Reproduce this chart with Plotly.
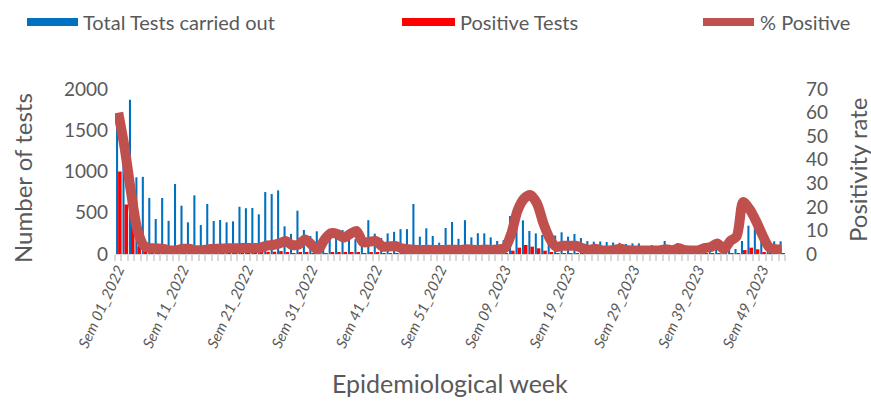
import plotly.graph_objects as go

# ---------------------------------------------------------------
# Weekly surveillance data, Sem 01_2022 .. Sem 52_2023
# ---------------------------------------------------------------
weeks = [f"Sem {w:02d}_{y}" for y in (2022, 2023) for w in range(1, 53)]

total_tests = [
    1650, 1300, 1870, 930, 935, 680, 424, 679, 402, 848,
    586, 384, 711, 351, 606, 400, 412, 384, 396, 572,
    555, 557, 481, 751, 727, 771, 335, 244, 525, 291,
    218, 275, 200, 180, 250, 291, 200, 180, 200, 410,
    246, 195, 250, 269, 301, 301, 606, 210, 311, 218,
    137, 315, 388, 184, 410, 202, 252, 250, 202, 158,
    168, 460, 420, 408, 279, 250, 230, 230, 224, 263,
    210, 242, 194, 156, 150, 152, 145, 139, 135, 121,
    129, 129, 97, 109, 97, 158, 97, 133, 100, 90,
    85, 80, 90, 85, 80, 70, 60, 158, 343, 311,
    170, 160, 154, 154,
]

positive_tests = [
    1000, 600, 480, 95, 33, 17, 10, 15, 6, 14,
    13, 8, 11, 6, 12, 9, 9, 9, 10, 14,
    14, 14, 13, 26, 28, 35, 18, 9, 21, 18,
    9, 5, 12, 16, 21, 20, 17, 18, 10, 21,
    14, 6, 8, 9, 7, 6, 11, 4, 6, 4,
    3, 6, 7, 3, 8, 4, 5, 5, 4, 3,
    4, 40, 77, 109, 89, 69, 40, 15, 7, 9,
    7, 8, 5, 3, 3, 2, 2, 3, 3, 2,
    2, 2, 1, 2, 1, 3, 2, 3, 2, 1,
    1, 2, 3, 4, 2, 4, 5, 48, 77, 57,
    14, 5, 3, 3,
]

pct_positive = [
    60, 45, 26, 10, 3.5, 2.5, 2.4, 2.2, 1.5, 1.6,
    2.2, 2.2, 1.6, 1.6, 2.0, 2.2, 2.3, 2.4, 2.4, 2.5,
    2.5, 2.5, 2.6, 3.5, 3.8, 4.5, 5.5, 3.8, 4.0, 6.2,
    4.0, 1.8, 6.0, 8.8, 8.5, 7.0, 8.5, 9.8, 5.0, 5.2,
    5.5, 3.2, 3.2, 3.4, 2.4, 2.0, 1.8, 1.7, 1.8, 1.7,
    1.7, 1.8, 1.8, 1.7, 2.0, 1.8, 1.7, 1.9, 1.7, 2.0,
    2.5, 8.5, 18.5, 23.5, 25, 21.5, 13, 6.5, 3.0, 3.5,
    3.5, 3.5, 2.5, 1.8, 2.2, 1.6, 1.5, 1.8, 2.2, 1.6,
    1.5, 1.5, 1.5, 1.5, 1.5, 2.0, 1.6, 2.4, 1.6, 1.5,
    1.5, 2.5, 3.0, 4.5, 2.0, 5.5, 7.5, 22, 19, 14,
    8, 3, 2, 2,
]

tick_every = 10
tick_pos = list(range(0, len(weeks), tick_every))
tick_text = [weeks[i] for i in tick_pos]

x = list(range(len(weeks)))

FONT = "Lato"
GREY = "#595959"

fig = go.Figure()

fig.add_trace(go.Bar(
    x=x, y=total_tests, name="Total Tests carried out",
    marker=dict(color="#0070C0", line=dict(width=0)),
    width=0.32, offset=-0.34,
))
fig.add_trace(go.Bar(
    x=x, y=positive_tests, name="Positive Tests",
    marker=dict(color="#FF0000", line=dict(width=0)),
    width=0.55, offset=-0.02,
))
fig.add_trace(go.Scatter(
    x=x, y=pct_positive, name="% Positive", yaxis="y2",
    mode="lines", line=dict(color="#C0504D", width=10, shape="spline", smoothing=0.8),
))

FIG_W, FIG_H = 871, 403
# plot area in window pixels
L, W, T, H = 115, 670, 89, 165

def px(v):
    return (v - L) / W

def py(v):
    return (T + H - v) / H

# custom legend (wide Excel-style swatches)
shapes = [
    dict(type="rect", xref="paper", yref="paper", x0=px(27), x1=px(78), y0=py(26), y1=py(18),
         fillcolor="#0070C0", line=dict(width=0)),
    dict(type="rect", xref="paper", yref="paper", x0=px(402), x1=px(455), y0=py(26), y1=py(18),
         fillcolor="#FF0000", line=dict(width=0)),
    dict(type="line", xref="paper", yref="paper", x0=px(703), x1=px(754), y0=py(22), y1=py(22),
         line=dict(color="#C0504D", width=8)),
]
legend_font = dict(family=FONT, size=20, color=GREY)
title_font = dict(family=FONT, size=24, color=GREY)

def note(text, xp, yp, font, xanchor="center", angle=0):
    return dict(text=text, x=px(xp), y=py(yp), xref="paper", yref="paper",
                xanchor=xanchor, yanchor="middle", textangle=angle,
                showarrow=False, font=font)

annotations = [
    note("Total Tests carried out", 81, 22, legend_font, "left"),
    note("Positive Tests", 458, 22, legend_font, "left"),
    note("% Positive", 758, 22, legend_font, "left"),
    note("Number of tests", 22, 178, title_font, angle=-90),
    note("Positivity rate", 857, 170, title_font, angle=-90),
    note("Epidemiological week", 450, 383, dict(family=FONT, size=25, color=GREY)),
]

fig.update_layout(
    width=FIG_W, height=FIG_H,
    margin=dict(l=L, r=FIG_W - L - W, t=T, b=FIG_H - T - H),
    paper_bgcolor="white", plot_bgcolor="white",
    barmode="overlay", showlegend=False,
    font=dict(family=FONT, color=GREY),
    shapes=shapes, annotations=annotations,
    xaxis=dict(
        range=[-0.5, len(weeks) - 0.5],
        tickvals=tick_pos, ticktext=tick_text, tickangle=-65,
        tickfont=dict(family=FONT, size=15, color=GREY, style="italic"),
        ticks="", showgrid=False, zeroline=False,
        showline=True, linecolor="#D9D9D9", linewidth=1,
        minor=dict(ticks="outside", tick0=0.5, dtick=1, ticklen=6,
                   tickwidth=2, tickcolor="#D9D9D9", showgrid=False),
    ),
    yaxis=dict(
        range=[0, 2000], dtick=500, showgrid=False, zeroline=False,
        tickfont=dict(family=FONT, size=19, color=GREY), ticklabelstandoff=6,
    ),
    yaxis2=dict(
        range=[0, 70], dtick=10, overlaying="y", side="right",
        showgrid=False, zeroline=False,
        tickfont=dict(family=FONT, size=19, color=GREY), ticklabelstandoff=20,
    ),
)

# drop the default page margin so the figure fills the window exactly
fig.write_html(
    "out.html",
    config={"displayModeBar": False},
    post_script="document.body.style.margin='0';document.body.style.overflow='hidden';",
)
